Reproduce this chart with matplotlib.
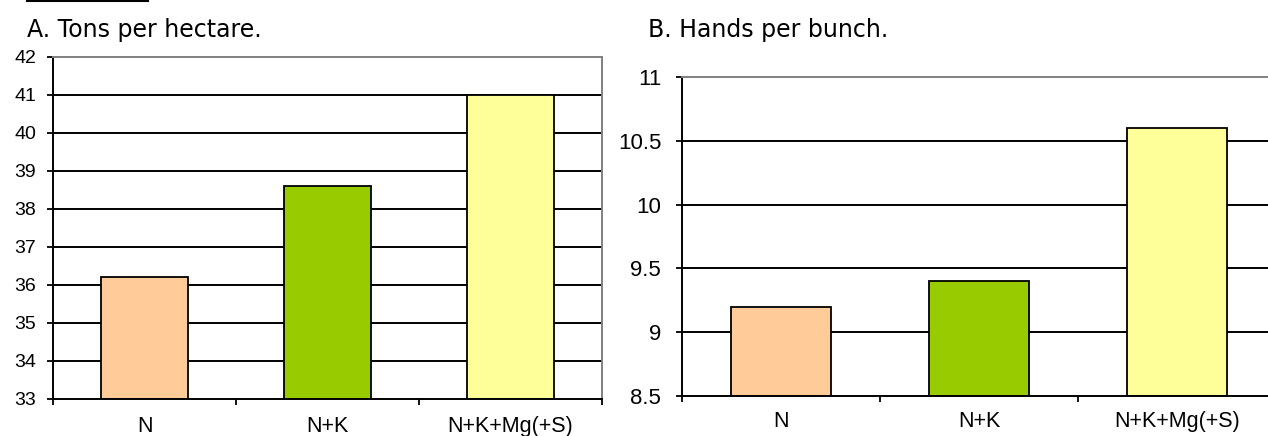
import matplotlib.pyplot as plt
from matplotlib.lines import Line2D
import numpy as np

# treatments and measured yields
treatments = ["N", "N+K", "N+K+Mg(+S)"]
tons_per_ha = [36.2, 38.6, 41.0]
hands_per_bunch = [9.2, 9.4, 10.6]
bar_colors = ["#FFCC99", "#99CC00", "#FFFF99"]

tons_ticks = [33, 34, 35, 36, 37, 38, 39, 40, 41, 42]
hands_ticks = [8.5, 9, 9.5, 10, 10.5, 11]
hands_labels = ["8.5", "9", "9.5", "10", "10.5", "11"]

fig = plt.figure(figsize=(12.68, 4.36), dpi=100)


def draw_panel(ax, values, yticks, ylabels, width, ysize, xsize, ypad, xpad):
    x = np.arange(len(treatments))
    ymin, ymax = yticks[0], yticks[-1]
    for y in yticks[1:-1]:
        ax.axhline(y, color="black", lw=1.4, zorder=0)
    ax.bar(x, np.array(values) - ymin, bottom=ymin, width=width,
           color=bar_colors, edgecolor="black", lw=1.3, zorder=2)
    ax.set_ylim(ymin, ymax)
    ax.set_xlim(-0.5, len(treatments) - 0.5)
    ax.set_yticks(yticks)
    ax.set_yticklabels(ylabels, fontfamily="Liberation Sans", fontsize=ysize)
    # category boundaries get the tick marks, centres get the labels
    ax.set_xticks(np.arange(len(treatments) + 1) - 0.5)
    ax.set_xticklabels([])
    ax.set_xticks(x, minor=True)
    ax.set_xticklabels(treatments, minor=True, fontfamily="Liberation Sans",
                       fontsize=xsize)
    ax.tick_params(axis="x", which="minor", length=0, pad=xpad)
    ax.tick_params(axis="x", which="major", length=4, width=1.3)
    ax.tick_params(axis="y", length=4, width=1.3, pad=ypad)
    for side in ["left", "bottom"]:
        ax.spines[side].set_color("black")
        ax.spines[side].set_linewidth(1.4)
    for side in ["top", "right"]:
        ax.spines[side].set_color("#808080")
        ax.spines[side].set_linewidth(1.4)


ax1 = fig.add_axes([0.0418, 0.0849, 0.4330, 0.7844])
draw_panel(ax1, tons_per_ha, tons_ticks, [str(t) for t in tons_ticks],
           0.475, 14, 15.5, 8, 12)

ax2 = fig.add_axes([0.5379, 0.0917, 0.4685, 0.7317])
draw_panel(ax2, hands_per_bunch, hands_ticks, hands_labels,
           0.505, 16, 15.5, 11, 11)

fig.text(27 / 1268, 1 - 37 / 436, "A. Tons per hectare.", fontfamily="DejaVu Sans",
         fontsize=17, va="baseline", ha="left")
fig.text(648 / 1268, 1 - 37 / 436, "B. Hands per bunch.", fontfamily="DejaVu Sans",
         fontsize=17, va="baseline", ha="left")

# underline of the figure caption above the panels
fig.add_artist(Line2D([27 / 1268, 148 / 1268], [1 - 1 / 436, 1 - 1 / 436],
                      color="black", lw=1.5, transform=fig.transFigure))

fig.savefig("out.png", dpi=100)
